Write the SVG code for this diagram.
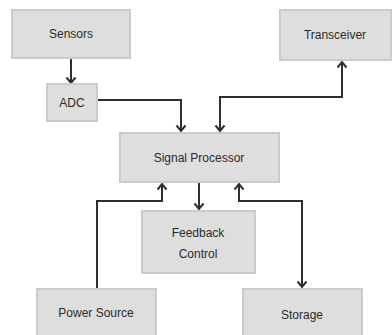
<svg xmlns="http://www.w3.org/2000/svg" width="392" height="335" viewBox="0 0 392 335">
<style>
.box{fill:#dedede;stroke:#cbcbcb;stroke-width:2}
.lbl{font-family:"Liberation Sans",Arial,sans-serif;font-size:12px;fill:#2a2a2a;text-anchor:middle}
.con{fill:none;stroke:#2e2e2e;stroke-width:2}
</style>
<defs>
<marker id="ah" markerUnits="userSpaceOnUse" markerWidth="12" markerHeight="12" refX="7" refY="6" orient="auto-start-reverse">
<path d="M1.5,1.5 L7,6 L1.5,10.5" fill="none" stroke="#2e2e2e" stroke-width="2"/>
</marker>
</defs>
<rect width="392" height="335" fill="#ffffff"/>
<g id="connectors">
<path class="con" d="M71,58 V83" marker-end="url(#ah)"/>
<path class="con" d="M97,100 H181 V131" marker-end="url(#ah)"/>
<path class="con" d="M220,131 V97 H342 V62" marker-start="url(#ah)" marker-end="url(#ah)"/>
<path class="con" d="M199,182 V209" marker-end="url(#ah)"/>
<path class="con" d="M97,288 V201 H162 V184" marker-end="url(#ah)"/>
<path class="con" d="M239,184 V201 H302 V287" marker-start="url(#ah)" marker-end="url(#ah)"/>
</g>
<g id="sensors"><rect class="box" x="12" y="10" width="118" height="48"/><text class="lbl" x="71" y="38">Sensors</text></g>
<g id="transceiver"><rect class="box" x="280" y="10" width="111" height="50"/><text class="lbl" x="335" y="39">Transceiver</text></g>
<g id="adc"><rect class="box" x="47" y="84" width="50" height="37"/><text class="lbl" x="72" y="107">ADC</text></g>
<g id="signal-processor"><rect class="box" x="120" y="133" width="159" height="49"/><text class="lbl" x="199" y="162">Signal Processor</text></g>
<g id="feedback-control"><rect class="box" x="142" y="211" width="113" height="62"/><text class="lbl" x="198" y="237">Feedback</text><text class="lbl" x="198" y="258">Control</text></g>
<g id="power-source"><rect class="box" x="37" y="289" width="119" height="52"/><text class="lbl" x="96" y="317">Power Source</text></g>
<g id="storage"><rect class="box" x="243" y="289" width="119" height="52"/><text class="lbl" x="302" y="319">Storage</text></g>
</svg>
